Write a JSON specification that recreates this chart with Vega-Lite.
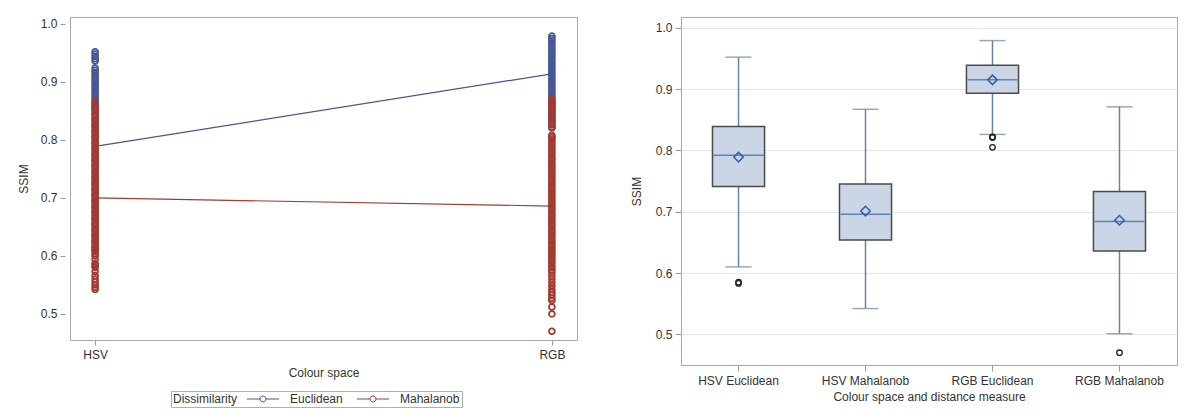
{
"$schema":"https://vega.github.io/schema/vega-lite/v6.json",
"background":"white",
"padding":{"left":16,"top":16,"right":0,"bottom":0},
"spacing":51,
"config":{
 "font":"Liberation Sans",
 "view":{"stroke":"#a8a8a8","strokeWidth":1},
 "axis":{"labelFont":"Liberation Sans","labelFontSize":12,"labelColor":"#333","titleFont":"Liberation Sans","titleFontSize":12,"titleFontWeight":"normal","titleColor":"#333","tickColor":"#999","domain":false,"grid":false},
 "legend":{"labelFont":"Liberation Sans","labelFontSize":12,"labelColor":"#333","titleFont":"Liberation Sans","titleFontSize":12,"titleFontWeight":"normal","titleColor":"#333"}
},
"datasets":{
 "means":[
  {"space":"HSV","measure":"Euclidean","ssim":0.789},{"space":"RGB","measure":"Euclidean","ssim":0.914},
  {"space":"HSV","measure":"Mahalanob","ssim":0.700},{"space":"RGB","measure":"Mahalanob","ssim":0.686}
 ],
 "pts":[
  {"space":"HSV","measure":"Euclidean","ssim":0.952},{"space":"HSV","measure":"Euclidean","ssim":0.948},{"space":"HSV","measure":"Euclidean","ssim":0.944},{"space":"HSV","measure":"Euclidean","ssim":0.940},{"space":"HSV","measure":"Euclidean","ssim":0.936},
  {"space":"HSV","measure":"Euclidean","ssim":0.924},{"space":"HSV","measure":"Euclidean","ssim":0.920},{"space":"HSV","measure":"Euclidean","ssim":0.916},{"space":"HSV","measure":"Euclidean","ssim":0.912},{"space":"HSV","measure":"Euclidean","ssim":0.908},{"space":"HSV","measure":"Euclidean","ssim":0.904},{"space":"HSV","measure":"Euclidean","ssim":0.900},{"space":"HSV","measure":"Euclidean","ssim":0.896},{"space":"HSV","measure":"Euclidean","ssim":0.892},{"space":"HSV","measure":"Euclidean","ssim":0.888},{"space":"HSV","measure":"Euclidean","ssim":0.884},{"space":"HSV","measure":"Euclidean","ssim":0.880},{"space":"HSV","measure":"Euclidean","ssim":0.876},{"space":"HSV","measure":"Euclidean","ssim":0.872},{"space":"HSV","measure":"Euclidean","ssim":0.868},{"space":"HSV","measure":"Euclidean","ssim":0.864},{"space":"HSV","measure":"Euclidean","ssim":0.860},{"space":"HSV","measure":"Euclidean","ssim":0.856},{"space":"HSV","measure":"Euclidean","ssim":0.852},
  {"space":"HSV","measure":"Euclidean","ssim":0.845},{"space":"HSV","measure":"Euclidean","ssim":0.835},{"space":"HSV","measure":"Euclidean","ssim":0.825},{"space":"HSV","measure":"Euclidean","ssim":0.815},{"space":"HSV","measure":"Euclidean","ssim":0.805},{"space":"HSV","measure":"Euclidean","ssim":0.795},{"space":"HSV","measure":"Euclidean","ssim":0.785},{"space":"HSV","measure":"Euclidean","ssim":0.775},{"space":"HSV","measure":"Euclidean","ssim":0.765},{"space":"HSV","measure":"Euclidean","ssim":0.755},{"space":"HSV","measure":"Euclidean","ssim":0.745},{"space":"HSV","measure":"Euclidean","ssim":0.735},{"space":"HSV","measure":"Euclidean","ssim":0.725},{"space":"HSV","measure":"Euclidean","ssim":0.715},{"space":"HSV","measure":"Euclidean","ssim":0.705},{"space":"HSV","measure":"Euclidean","ssim":0.695},{"space":"HSV","measure":"Euclidean","ssim":0.685},{"space":"HSV","measure":"Euclidean","ssim":0.675},{"space":"HSV","measure":"Euclidean","ssim":0.665},{"space":"HSV","measure":"Euclidean","ssim":0.655},{"space":"HSV","measure":"Euclidean","ssim":0.645},{"space":"HSV","measure":"Euclidean","ssim":0.635},{"space":"HSV","measure":"Euclidean","ssim":0.625},{"space":"HSV","measure":"Euclidean","ssim":0.615},{"space":"HSV","measure":"Euclidean","ssim":0.610},{"space":"HSV","measure":"Euclidean","ssim":0.585},{"space":"HSV","measure":"Euclidean","ssim":0.583},
  {"space":"RGB","measure":"Euclidean","ssim":0.979},{"space":"RGB","measure":"Euclidean","ssim":0.975},{"space":"RGB","measure":"Euclidean","ssim":0.971},{"space":"RGB","measure":"Euclidean","ssim":0.967},{"space":"RGB","measure":"Euclidean","ssim":0.963},{"space":"RGB","measure":"Euclidean","ssim":0.959},{"space":"RGB","measure":"Euclidean","ssim":0.955},{"space":"RGB","measure":"Euclidean","ssim":0.951},{"space":"RGB","measure":"Euclidean","ssim":0.947},{"space":"RGB","measure":"Euclidean","ssim":0.943},{"space":"RGB","measure":"Euclidean","ssim":0.939},{"space":"RGB","measure":"Euclidean","ssim":0.935},{"space":"RGB","measure":"Euclidean","ssim":0.931},{"space":"RGB","measure":"Euclidean","ssim":0.927},{"space":"RGB","measure":"Euclidean","ssim":0.923},{"space":"RGB","measure":"Euclidean","ssim":0.919},{"space":"RGB","measure":"Euclidean","ssim":0.915},{"space":"RGB","measure":"Euclidean","ssim":0.911},{"space":"RGB","measure":"Euclidean","ssim":0.907},{"space":"RGB","measure":"Euclidean","ssim":0.903},{"space":"RGB","measure":"Euclidean","ssim":0.899},{"space":"RGB","measure":"Euclidean","ssim":0.895},{"space":"RGB","measure":"Euclidean","ssim":0.891},{"space":"RGB","measure":"Euclidean","ssim":0.887},{"space":"RGB","measure":"Euclidean","ssim":0.883},{"space":"RGB","measure":"Euclidean","ssim":0.879},{"space":"RGB","measure":"Euclidean","ssim":0.875},{"space":"RGB","measure":"Euclidean","ssim":0.871},{"space":"RGB","measure":"Euclidean","ssim":0.867},{"space":"RGB","measure":"Euclidean","ssim":0.863},{"space":"RGB","measure":"Euclidean","ssim":0.859},{"space":"RGB","measure":"Euclidean","ssim":0.855},{"space":"RGB","measure":"Euclidean","ssim":0.851},{"space":"RGB","measure":"Euclidean","ssim":0.847},{"space":"RGB","measure":"Euclidean","ssim":0.843},{"space":"RGB","measure":"Euclidean","ssim":0.839},{"space":"RGB","measure":"Euclidean","ssim":0.835},{"space":"RGB","measure":"Euclidean","ssim":0.831},{"space":"RGB","measure":"Euclidean","ssim":0.827},{"space":"RGB","measure":"Euclidean","ssim":0.822},{"space":"RGB","measure":"Euclidean","ssim":0.821},{"space":"RGB","measure":"Euclidean","ssim":0.805},
  {"space":"HSV","measure":"Mahalanob","ssim":0.867},{"space":"HSV","measure":"Mahalanob","ssim":0.861},{"space":"HSV","measure":"Mahalanob","ssim":0.855},{"space":"HSV","measure":"Mahalanob","ssim":0.849},
  {"space":"HSV","measure":"Mahalanob","ssim":0.844},{"space":"HSV","measure":"Mahalanob","ssim":0.840},{"space":"HSV","measure":"Mahalanob","ssim":0.836},{"space":"HSV","measure":"Mahalanob","ssim":0.832},{"space":"HSV","measure":"Mahalanob","ssim":0.828},{"space":"HSV","measure":"Mahalanob","ssim":0.824},{"space":"HSV","measure":"Mahalanob","ssim":0.820},{"space":"HSV","measure":"Mahalanob","ssim":0.816},{"space":"HSV","measure":"Mahalanob","ssim":0.812},{"space":"HSV","measure":"Mahalanob","ssim":0.808},{"space":"HSV","measure":"Mahalanob","ssim":0.804},{"space":"HSV","measure":"Mahalanob","ssim":0.800},{"space":"HSV","measure":"Mahalanob","ssim":0.796},{"space":"HSV","measure":"Mahalanob","ssim":0.792},{"space":"HSV","measure":"Mahalanob","ssim":0.788},{"space":"HSV","measure":"Mahalanob","ssim":0.784},{"space":"HSV","measure":"Mahalanob","ssim":0.780},{"space":"HSV","measure":"Mahalanob","ssim":0.776},{"space":"HSV","measure":"Mahalanob","ssim":0.772},{"space":"HSV","measure":"Mahalanob","ssim":0.768},{"space":"HSV","measure":"Mahalanob","ssim":0.764},{"space":"HSV","measure":"Mahalanob","ssim":0.760},{"space":"HSV","measure":"Mahalanob","ssim":0.756},{"space":"HSV","measure":"Mahalanob","ssim":0.752},{"space":"HSV","measure":"Mahalanob","ssim":0.748},{"space":"HSV","measure":"Mahalanob","ssim":0.744},{"space":"HSV","measure":"Mahalanob","ssim":0.740},{"space":"HSV","measure":"Mahalanob","ssim":0.736},{"space":"HSV","measure":"Mahalanob","ssim":0.732},{"space":"HSV","measure":"Mahalanob","ssim":0.728},{"space":"HSV","measure":"Mahalanob","ssim":0.724},{"space":"HSV","measure":"Mahalanob","ssim":0.720},{"space":"HSV","measure":"Mahalanob","ssim":0.716},{"space":"HSV","measure":"Mahalanob","ssim":0.712},{"space":"HSV","measure":"Mahalanob","ssim":0.708},{"space":"HSV","measure":"Mahalanob","ssim":0.704},{"space":"HSV","measure":"Mahalanob","ssim":0.700},{"space":"HSV","measure":"Mahalanob","ssim":0.696},{"space":"HSV","measure":"Mahalanob","ssim":0.692},{"space":"HSV","measure":"Mahalanob","ssim":0.688},{"space":"HSV","measure":"Mahalanob","ssim":0.684},{"space":"HSV","measure":"Mahalanob","ssim":0.680},{"space":"HSV","measure":"Mahalanob","ssim":0.676},{"space":"HSV","measure":"Mahalanob","ssim":0.672},{"space":"HSV","measure":"Mahalanob","ssim":0.668},{"space":"HSV","measure":"Mahalanob","ssim":0.664},{"space":"HSV","measure":"Mahalanob","ssim":0.660},{"space":"HSV","measure":"Mahalanob","ssim":0.656},{"space":"HSV","measure":"Mahalanob","ssim":0.652},{"space":"HSV","measure":"Mahalanob","ssim":0.648},{"space":"HSV","measure":"Mahalanob","ssim":0.644},{"space":"HSV","measure":"Mahalanob","ssim":0.640},{"space":"HSV","measure":"Mahalanob","ssim":0.636},{"space":"HSV","measure":"Mahalanob","ssim":0.632},{"space":"HSV","measure":"Mahalanob","ssim":0.628},{"space":"HSV","measure":"Mahalanob","ssim":0.624},{"space":"HSV","measure":"Mahalanob","ssim":0.620},{"space":"HSV","measure":"Mahalanob","ssim":0.616},{"space":"HSV","measure":"Mahalanob","ssim":0.612},{"space":"HSV","measure":"Mahalanob","ssim":0.608},{"space":"HSV","measure":"Mahalanob","ssim":0.604},{"space":"HSV","measure":"Mahalanob","ssim":0.600},
  {"space":"HSV","measure":"Mahalanob","ssim":0.594},{"space":"HSV","measure":"Mahalanob","ssim":0.587},{"space":"HSV","measure":"Mahalanob","ssim":0.580},{"space":"HSV","measure":"Mahalanob","ssim":0.573},{"space":"HSV","measure":"Mahalanob","ssim":0.566},{"space":"HSV","measure":"Mahalanob","ssim":0.560},{"space":"HSV","measure":"Mahalanob","ssim":0.555},{"space":"HSV","measure":"Mahalanob","ssim":0.550},{"space":"HSV","measure":"Mahalanob","ssim":0.546},{"space":"HSV","measure":"Mahalanob","ssim":0.542},
  {"space":"RGB","measure":"Mahalanob","ssim":0.871},{"space":"RGB","measure":"Mahalanob","ssim":0.866},{"space":"RGB","measure":"Mahalanob","ssim":0.861},{"space":"RGB","measure":"Mahalanob","ssim":0.856},{"space":"RGB","measure":"Mahalanob","ssim":0.851},{"space":"RGB","measure":"Mahalanob","ssim":0.846},{"space":"RGB","measure":"Mahalanob","ssim":0.841},{"space":"RGB","measure":"Mahalanob","ssim":0.836},{"space":"RGB","measure":"Mahalanob","ssim":0.831},{"space":"RGB","measure":"Mahalanob","ssim":0.826},{"space":"RGB","measure":"Mahalanob","ssim":0.821},
  {"space":"RGB","measure":"Mahalanob","ssim":0.808},{"space":"RGB","measure":"Mahalanob","ssim":0.804},{"space":"RGB","measure":"Mahalanob","ssim":0.800},{"space":"RGB","measure":"Mahalanob","ssim":0.796},{"space":"RGB","measure":"Mahalanob","ssim":0.792},{"space":"RGB","measure":"Mahalanob","ssim":0.788},{"space":"RGB","measure":"Mahalanob","ssim":0.784},{"space":"RGB","measure":"Mahalanob","ssim":0.780},{"space":"RGB","measure":"Mahalanob","ssim":0.776},{"space":"RGB","measure":"Mahalanob","ssim":0.772},{"space":"RGB","measure":"Mahalanob","ssim":0.768},{"space":"RGB","measure":"Mahalanob","ssim":0.764},{"space":"RGB","measure":"Mahalanob","ssim":0.760},{"space":"RGB","measure":"Mahalanob","ssim":0.756},{"space":"RGB","measure":"Mahalanob","ssim":0.752},{"space":"RGB","measure":"Mahalanob","ssim":0.748},{"space":"RGB","measure":"Mahalanob","ssim":0.744},{"space":"RGB","measure":"Mahalanob","ssim":0.740},{"space":"RGB","measure":"Mahalanob","ssim":0.736},{"space":"RGB","measure":"Mahalanob","ssim":0.732},{"space":"RGB","measure":"Mahalanob","ssim":0.728},{"space":"RGB","measure":"Mahalanob","ssim":0.724},{"space":"RGB","measure":"Mahalanob","ssim":0.720},{"space":"RGB","measure":"Mahalanob","ssim":0.716},{"space":"RGB","measure":"Mahalanob","ssim":0.712},{"space":"RGB","measure":"Mahalanob","ssim":0.708},{"space":"RGB","measure":"Mahalanob","ssim":0.704},{"space":"RGB","measure":"Mahalanob","ssim":0.700},{"space":"RGB","measure":"Mahalanob","ssim":0.696},{"space":"RGB","measure":"Mahalanob","ssim":0.692},{"space":"RGB","measure":"Mahalanob","ssim":0.688},{"space":"RGB","measure":"Mahalanob","ssim":0.684},{"space":"RGB","measure":"Mahalanob","ssim":0.680},{"space":"RGB","measure":"Mahalanob","ssim":0.676},{"space":"RGB","measure":"Mahalanob","ssim":0.672},{"space":"RGB","measure":"Mahalanob","ssim":0.668},{"space":"RGB","measure":"Mahalanob","ssim":0.664},{"space":"RGB","measure":"Mahalanob","ssim":0.660},{"space":"RGB","measure":"Mahalanob","ssim":0.656},{"space":"RGB","measure":"Mahalanob","ssim":0.652},{"space":"RGB","measure":"Mahalanob","ssim":0.648},{"space":"RGB","measure":"Mahalanob","ssim":0.644},{"space":"RGB","measure":"Mahalanob","ssim":0.640},{"space":"RGB","measure":"Mahalanob","ssim":0.636},{"space":"RGB","measure":"Mahalanob","ssim":0.632},{"space":"RGB","measure":"Mahalanob","ssim":0.628},{"space":"RGB","measure":"Mahalanob","ssim":0.624},{"space":"RGB","measure":"Mahalanob","ssim":0.620},{"space":"RGB","measure":"Mahalanob","ssim":0.616},{"space":"RGB","measure":"Mahalanob","ssim":0.612},{"space":"RGB","measure":"Mahalanob","ssim":0.608},{"space":"RGB","measure":"Mahalanob","ssim":0.604},{"space":"RGB","measure":"Mahalanob","ssim":0.600},{"space":"RGB","measure":"Mahalanob","ssim":0.596},{"space":"RGB","measure":"Mahalanob","ssim":0.592},{"space":"RGB","measure":"Mahalanob","ssim":0.588},{"space":"RGB","measure":"Mahalanob","ssim":0.584},{"space":"RGB","measure":"Mahalanob","ssim":0.580},{"space":"RGB","measure":"Mahalanob","ssim":0.576},{"space":"RGB","measure":"Mahalanob","ssim":0.572},
  {"space":"RGB","measure":"Mahalanob","ssim":0.566},{"space":"RGB","measure":"Mahalanob","ssim":0.560},{"space":"RGB","measure":"Mahalanob","ssim":0.554},{"space":"RGB","measure":"Mahalanob","ssim":0.548},{"space":"RGB","measure":"Mahalanob","ssim":0.542},{"space":"RGB","measure":"Mahalanob","ssim":0.537},{"space":"RGB","measure":"Mahalanob","ssim":0.532},{"space":"RGB","measure":"Mahalanob","ssim":0.527},{"space":"RGB","measure":"Mahalanob","ssim":0.523},{"space":"RGB","measure":"Mahalanob","ssim":0.512},{"space":"RGB","measure":"Mahalanob","ssim":0.500},{"space":"RGB","measure":"Mahalanob","ssim":0.470}
 ],
 "box":[
  {"cat":"HSV Euclidean","lo":0.610,"q1":0.741,"median":0.792,"q3":0.839,"hi":0.952,"mean":0.789},
  {"cat":"HSV Mahalanob","lo":0.542,"q1":0.654,"median":0.696,"q3":0.745,"hi":0.867,"mean":0.701},
  {"cat":"RGB Euclidean","lo":0.826,"q1":0.893,"median":0.915,"q3":0.939,"hi":0.979,"mean":0.915},
  {"cat":"RGB Mahalanob","lo":0.501,"q1":0.636,"median":0.684,"q3":0.733,"hi":0.871,"mean":0.686}
 ],
 "out":[
  {"cat":"HSV Euclidean","ssim":0.585},{"cat":"HSV Euclidean","ssim":0.583},
  {"cat":"RGB Euclidean","ssim":0.822},{"cat":"RGB Euclidean","ssim":0.821},{"cat":"RGB Euclidean","ssim":0.805},
  {"cat":"RGB Mahalanob","ssim":0.470}
 ]
},
"hconcat":[
 {
  "width":507,"height":323,
  "layer":[
   {"data":{"name":"means"},
    "mark":{"type":"line","strokeWidth":1.2},
    "encoding":{
     "x":{"field":"space","type":"nominal","scale":{"type":"point","padding":0.055},"axis":{"title":"Colour space","labelAngle":0,"tickSize":5,"labelPadding":4,"titlePadding":7}},
     "y":{"field":"ssim","type":"quantitative","scale":{"domain":[0.455,1.012],"nice":false,"zero":false},"axis":{"title":"SSIM","values":[0.5,0.6,0.7,0.8,0.9,1.0],"format":".1f","offset":5,"tickSize":5,"labelPadding":3,"titlePadding":10}},
     "color":{"field":"measure","type":"nominal","scale":{"domain":["Euclidean","Mahalanob"],"range":["#445694","#a23a2e"]},
      "legend":{"title":"Dissimilarity","orient":"none","legendX":101,"legendY":374,"direction":"horizontal","titleOrient":"left","titlePadding":8,"padding":2,"strokeColor":"#b0b0b0","columnPadding":12,"symbolOffset":12,"labelOffset":21,"symbolType":"M-4,0H-0.75M0.75,0H4M0.75,0A0.75,0.75,0,1,1,-0.75,0A0.75,0.75,0,1,1,0.75,0","symbolSize":64,"symbolStrokeWidth":1,"symbolFillColor":"transparent"}}
    }},
   {"data":{"name":"pts"},
    "mark":{"type":"point","shape":"circle","filled":false,"size":34,"strokeWidth":1.8,"opacity":1},
    "encoding":{
     "x":{"field":"space","type":"nominal"},
     "y":{"field":"ssim","type":"quantitative","title":"SSIM"},
     "color":{"field":"measure","type":"nominal"}
    }}
  ]
 },
 {
  "width":496,"height":348,
  "data":{"name":"box"},
  "encoding":{
   "x":{"field":"cat","type":"nominal","scale":{"type":"band","paddingInner":0.59,"paddingOuter":0.248},"axis":{"title":"Colour space and distance measure","labelAngle":0,"tickSize":6,"labelPadding":4,"titlePadding":5}}
  },
  "layer":[
   {"mark":{"type":"rule","color":"#6a83a3","strokeWidth":1.5},
    "encoding":{"y":{"field":"lo","type":"quantitative","scale":{"domain":[0.45,1.0175],"nice":false,"zero":false},"axis":{"title":"SSIM","values":[0.5,0.6,0.7,0.8,0.9,1.0],"format":".1f","grid":true,"gridColor":"#e6e6e6","tickSize":6,"labelPadding":3,"titlePadding":12}},"y2":{"field":"q1"}}},
   {"mark":{"type":"rule","color":"#6a83a3","strokeWidth":1.5},
    "encoding":{"y":{"field":"q3","type":"quantitative","title":"SSIM"},"y2":{"field":"hi"}}},
   {"mark":{"type":"bar","fill":"#cad5e5","stroke":"#4a4a4a","strokeWidth":1.5},
    "encoding":{"y":{"field":"q1","type":"quantitative","title":"SSIM"},"y2":{"field":"q3"}}},
   {"mark":{"type":"tick","color":"#6a83a3","size":26,"thickness":1.5},
    "encoding":{"y":{"field":"lo","type":"quantitative","title":"SSIM"}}},
   {"mark":{"type":"tick","color":"#6a83a3","size":26,"thickness":1.5},
    "encoding":{"y":{"field":"hi","type":"quantitative","title":"SSIM"}}},
   {"mark":{"type":"tick","color":"#2f5fb0","size":50,"thickness":1.5},
    "encoding":{"y":{"field":"median","type":"quantitative","title":"SSIM"}}},
   {"mark":{"type":"point","shape":"diamond","filled":false,"color":"#2f5fb0","size":90,"strokeWidth":1.5,"opacity":1},
    "encoding":{"y":{"field":"mean","type":"quantitative","title":"SSIM"}}},
   {"data":{"name":"out"},
    "mark":{"type":"point","shape":"circle","filled":false,"color":"#222","size":30,"strokeWidth":1.3,"opacity":1},
    "encoding":{"y":{"field":"ssim","type":"quantitative","title":"SSIM"}}}
  ]
 }
]
}
